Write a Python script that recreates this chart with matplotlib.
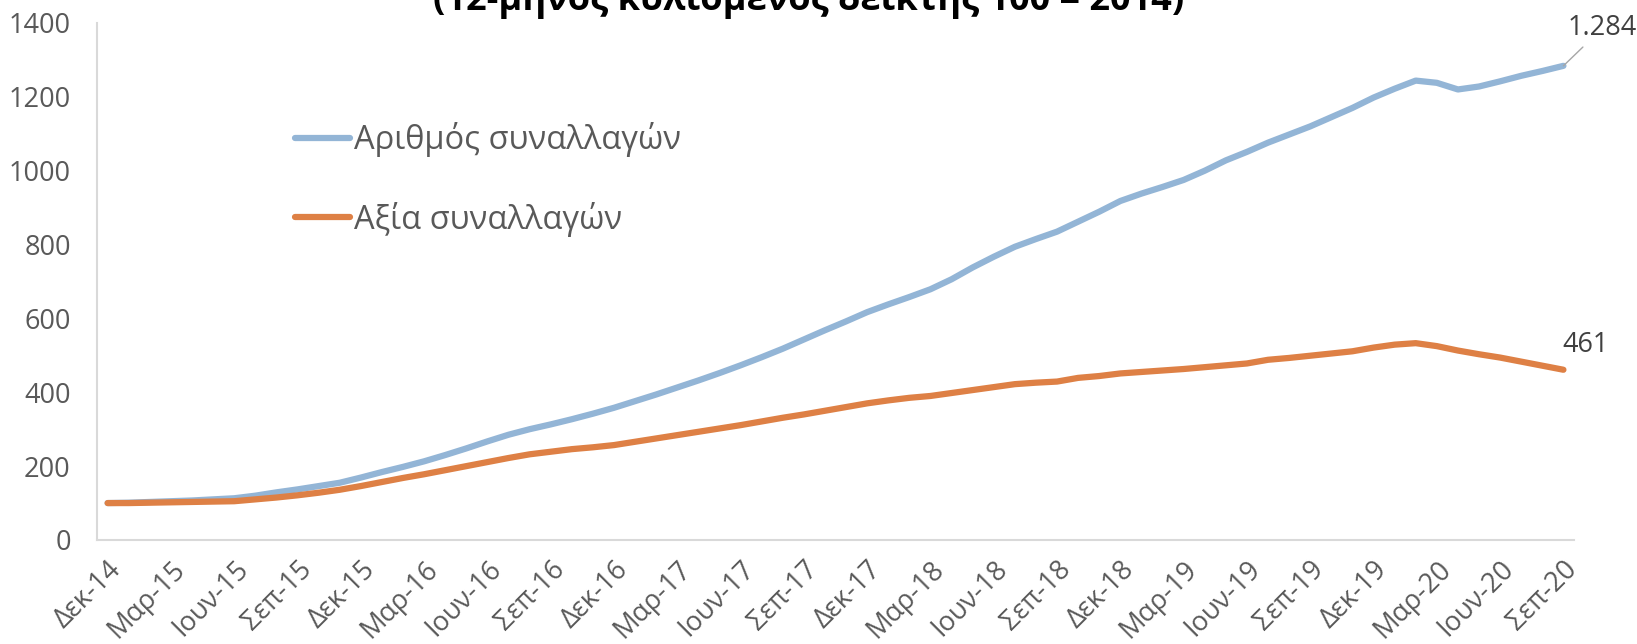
import matplotlib
matplotlib.use("Agg")
import matplotlib.pyplot as plt

plt.rcParams['font.family'] = ['Open Sans', 'DejaVu Sans']

# === data: 12-month rolling index, Dec-14 .. Sep-20 (monthly) ===
tick_labels = ["Δεκ-14", "Μαρ-15", "Ιουν-15", "Σεπ-15", "Δεκ-15", "Μαρ-16",
               "Ιουν-16", "Σεπ-16", "Δεκ-16", "Μαρ-17", "Ιουν-17", "Σεπ-17",
               "Δεκ-17", "Μαρ-18", "Ιουν-18", "Σεπ-18", "Δεκ-18", "Μαρ-19",
               "Ιουν-19", "Σεπ-19", "Δεκ-19", "Μαρ-20", "Ιουν-20", "Σεπ-20"]

count_idx = [100, 101, 103, 105, 107, 110, 113, 120, 129, 137,
             146, 155, 169, 184, 198, 213, 230, 248, 267, 285,
             300, 313, 327, 342, 358, 376, 394, 413, 432, 452,
             473, 495, 518, 543, 568, 592, 617, 638, 658, 679,
             706, 738, 767, 794, 815, 835, 862, 889, 918, 938,
             956, 975, 1000, 1028, 1051, 1076, 1098, 1120, 1145, 1170,
             1198, 1222, 1244, 1238, 1220, 1228, 1242, 1257, 1270, 1284]

value_idx = [100, 100, 101, 102, 103, 104, 105, 110, 115, 121,
             128, 136, 146, 157, 168, 178, 189, 200, 211, 222,
             232, 239, 246, 251, 257, 266, 275, 284, 293, 302,
             311, 321, 331, 340, 350, 360, 370, 378, 385, 390,
             398, 406, 414, 422, 426, 429, 439, 444, 451, 455,
             459, 463, 468, 473, 478, 488, 493, 499, 505, 511,
             521, 529, 533, 525, 513, 503, 494, 483, 472, 461]

BLUE = "#93B5D6"
ORANGE = "#DE8045"
GREY_TXT = "#595959"

x = list(range(len(count_idx)))

fig = plt.figure(figsize=(16.37, 6.44), dpi=100)
ax = fig.add_axes([0.0593, 0.1615, 0.9022, 0.8028])

ax.plot(x, count_idx, color=BLUE, lw=4.5, solid_capstyle='round', label="Αριθμός συναλλαγών")
ax.plot(x, value_idx, color=ORANGE, lw=4.5, solid_capstyle='round', label="Αξία συναλλαγών")

ax.set_xlim(-0.5, len(x) - 0.5)
ax.set_ylim(0, 1400)
ax.set_yticks(range(0, 1401, 200))
ax.set_xticks(x[::3])
ax.set_xticklabels(tick_labels, rotation=45, ha='right', va='top',
                   rotation_mode='anchor', fontsize=16)

ax.tick_params(axis='both', length=0, labelsize=19.5, labelcolor=GREY_TXT)
ax.tick_params(axis='y', pad=19)
ax.tick_params(axis='x', pad=11)

for s in ['top', 'right']:
    ax.spines[s].set_visible(False)
for s in ['left', 'bottom']:
    ax.spines[s].set_color("#D9D9D9")
    ax.spines[s].set_linewidth(1.5)

# data labels at the last point
ax.annotate("1.284", xy=(x[-1], count_idx[-1]), xytext=(28, 27),
            textcoords='offset points', ha='center', va='center',
            fontsize=19.5, color="#404040", annotation_clip=False,
            arrowprops=dict(arrowstyle='-', color="#A6A6A6", lw=1,
                            shrinkA=2, shrinkB=0))
ax.annotate("461", xy=(x[-1], value_idx[-1]), xytext=(16, 18),
            textcoords='offset points', ha='center', va='center',
            fontsize=19.5, color="#404040", annotation_clip=False)

ax.legend(loc='center left', bbox_to_anchor=(0.1802, 0.7213),
          bbox_transform=fig.transFigure, frameon=False, fontsize=23.5,
          labelcolor=GREY_TXT, handlelength=1.7, handletextpad=0.1,
          labelspacing=1.35, borderpad=0, borderaxespad=0)

# title, partly cut off by the top edge as in the source
fig.text(0.494, 0.984, "(12-μηνος κυλιόμενος δείκτης 100 = 2014)",
         ha='center', va='baseline', fontsize=26, fontweight='bold',
         color="black")

fig.savefig("out.png", dpi=100)
